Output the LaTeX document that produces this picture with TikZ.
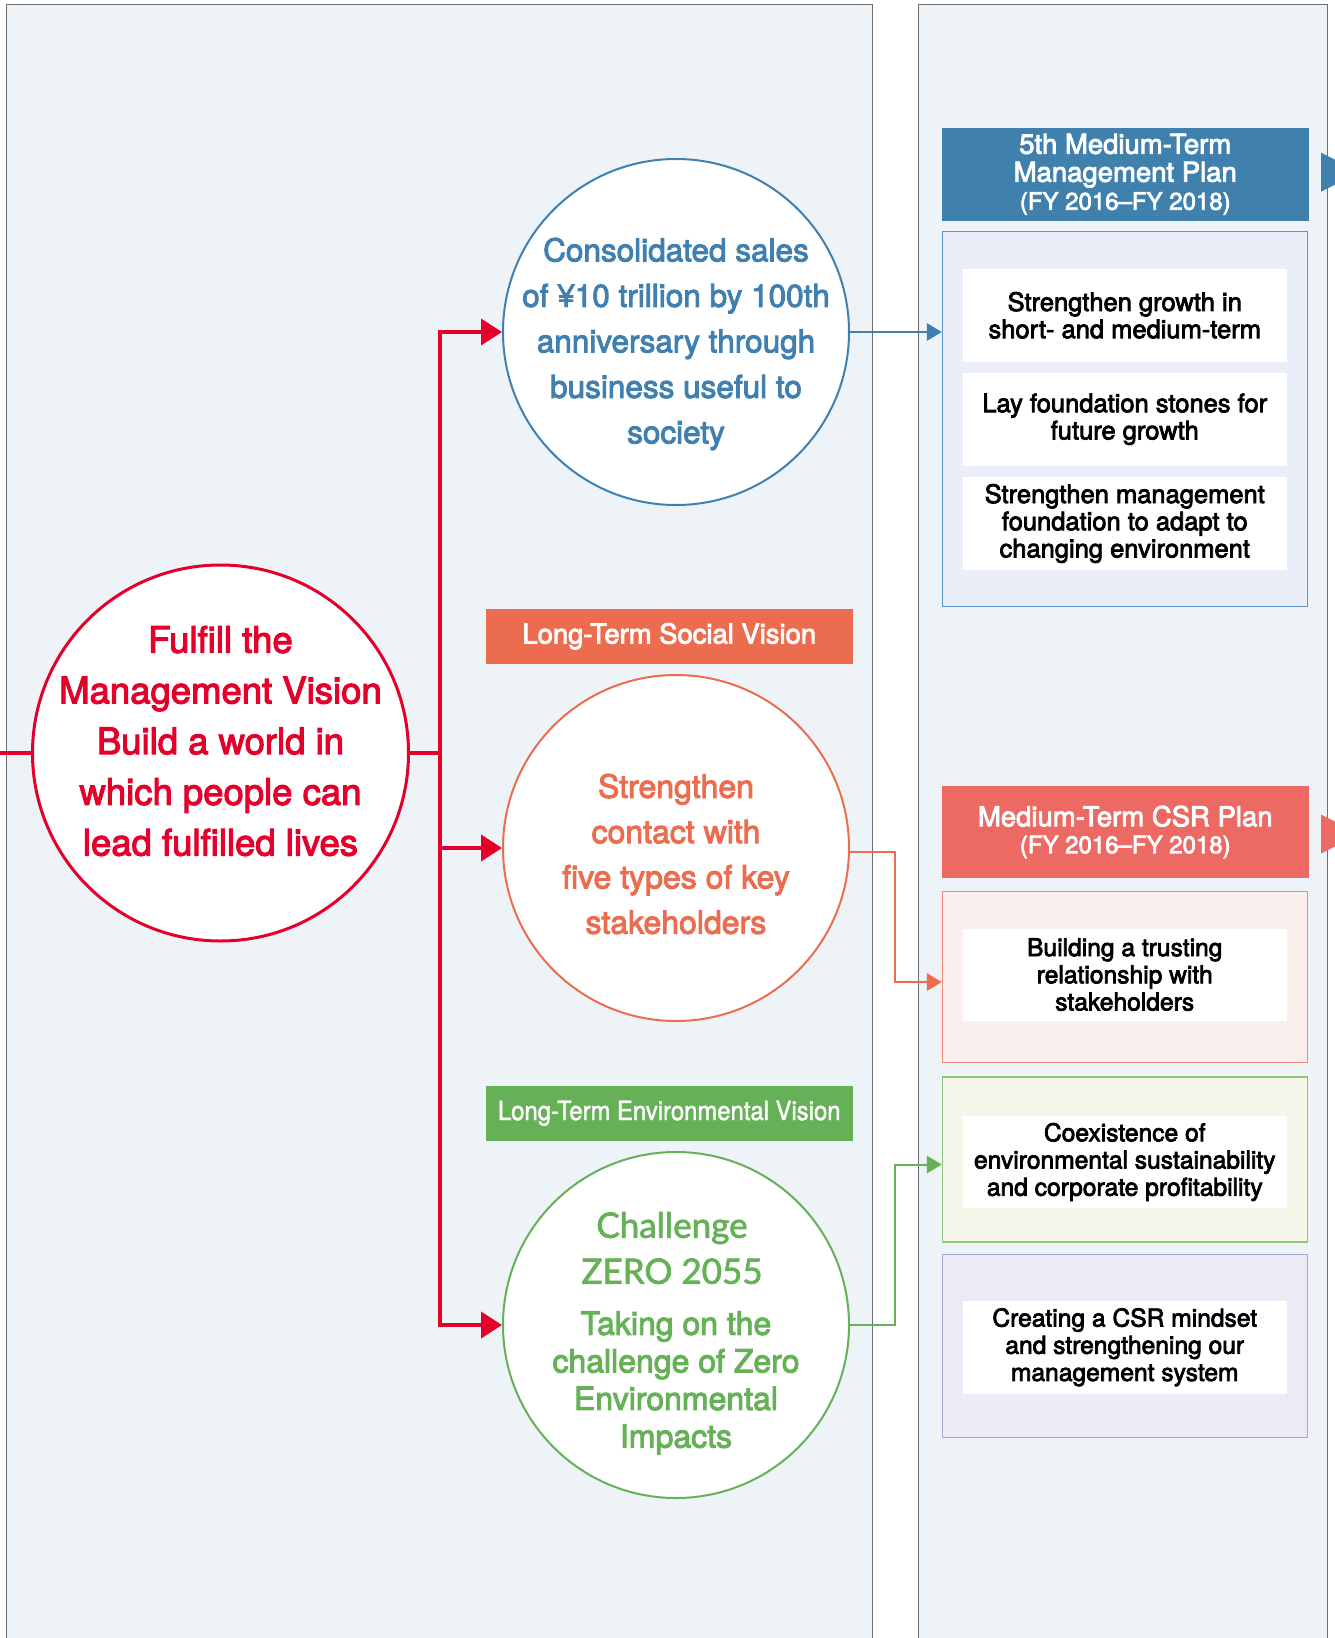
\documentclass[tikz,border=0pt]{standalone}
\usepackage{fontspec}
\usetikzlibrary{arrows.meta,calc}
\newfontfamily\hv{TeX Gyre Heros}[FakeBold=3]
\newfontfamily\hvcond{TeX Gyre Heros}[FakeStretch=0.9,FakeBold=1.5]
\newfontfamily\rnd{Lato}[FakeBold=2]
\newcommand{\setfs}[2]{\fontsize{#1}{#2}\selectfont}

\definecolor{panelbg}{HTML}{EEF3F8}
\definecolor{panelline}{HTML}{6E6E6E}
\definecolor{vred}{HTML}{E4002B}
\definecolor{vblue}{HTML}{4080B0}
\definecolor{vorange}{HTML}{EC6C50}
\definecolor{vgreen}{HTML}{66B158}
\definecolor{hdrblue}{HTML}{3F80AD}
\definecolor{hdrcsr}{HTML}{EC6A63}
\definecolor{frblue}{HTML}{E9EEF8}
\definecolor{frbluel}{HTML}{5E95C4}
\definecolor{frorange}{HTML}{FBEFEE}
\definecolor{frorangel}{HTML}{F08A78}
\definecolor{frgreen}{HTML}{F4F7EA}
\definecolor{frgreenl}{HTML}{8CC67F}
\definecolor{frpurple}{HTML}{ECEAF5}
\definecolor{frpurplel}{HTML}{A6A6D4}

\tikzset{
  panel/.style={draw=panelline, line width=1.5pt, fill=panelbg},
  vcircle/.style={circle, fill=white, line width=2pt, inner sep=0pt, minimum size=346pt},
  circtext/.style={align=center, inner sep=0pt},
  hdr/.style={rectangle, inner sep=0pt, text=white, align=center,
              minimum width=366.5pt, minimum height=92.5pt},
  tag/.style={rectangle, inner sep=0pt, text=white, align=center,
              minimum width=366.5pt, minimum height=54.5pt},
  frame/.style={rectangle, inner sep=0pt, line width=1.5pt,
                minimum width=365pt},
  item/.style={rectangle, fill=white, inner sep=0pt, align=center,
               minimum width=323.5pt, minimum height=92.5pt,
               font=\hv\setfs{25.5}{27.2}},
  csritem/.style={item, font=\hv\setfs{24.6}{27.2}},
  redline/.style={draw=vred, line width=4pt},
  redarrow/.style={redline, -{Triangle[length=21pt,width=26pt]}},
  link/.style={line width=2pt, -{Triangle[length=15pt,width=17.5pt]}},
}

\begin{document}
\begin{tikzpicture}[x=1pt,y=-1pt]
\useasboundingbox (0,0) rectangle (1335,1638);
\clip (0,0) rectangle (1335,1638);

% two column panels
\draw[panel] (6.5,4.5) rectangle (872.7,1660);
\draw[panel] (918.7,4.5) rectangle (1327.3,1660);

% junction points of the red trunk
\coordinate (jTop) at (440,332);
\coordinate (jMid) at (440,753);
\coordinate (jSoc) at (440,848);
\coordinate (jBot) at (440,1325);
\coordinate (inL) at (0,753);

% vision circles
\node[vcircle, draw=vred, line width=3pt, minimum size=376pt] (mgmt) at (220.5,753) {};
\node[vcircle, draw=vblue] (sales) at (676,332) {};
\node[vcircle, draw=vorange] (social) at (676,848) {};
\node[vcircle, draw=vgreen] (env) at (676,1325) {};

% red trunk and branches
\draw[redline] (inL) -- (mgmt.west);
\draw[redline] (mgmt.east) -- (jMid);
\draw[redline, line cap=rect] (jTop) -- (jBot);
\draw[redarrow] (jTop) -- (sales.west);
\draw[redarrow] (jSoc) -- (social.west);
\draw[redarrow] (jBot) -- (env.west);

% circle texts
\node[circtext, text=vred, font=\hv\setfs{36.5}{50.7}] (mgmtT) at (220.5,741)
  {Fulfill the\\Management Vision\\Build a world in\\which people can\\lead fulfilled lives};
\node[circtext, text=vblue, font=\hv\setfs{31.5}{45.5}] (salesT) at (676,344)
  {Consolidated sales\\of ¥10 trillion by 100th\\anniversary through\\business useful to\\society};
\node[circtext, text=vorange, font=\hv\setfs{32}{45.3}] (socialT) at (676,854)
  {Strengthen\\contact with\\five types of key\\stakeholders};
\node[circtext, text=vgreen, font=\rnd\setfs{35}{46}] (envT1) at (672,1248)
  {Challenge\\ZERO 2055};
\node[circtext, text=vgreen, font=\hv\setfs{32}{37.6}] (envT2) at (676,1383)
  {Taking on the\\challenge of Zero\\Environmental\\Impacts};

% long-term vision tags
\node[tag, fill=vorange, font=\hv\setfs{27.4}{30}] (socTag) at (669.25,636.25)
  {Long-Term Social Vision};
\node[tag, fill=vgreen, font=\hvcond\setfs{26.5}{30}] (envTag) at (669.25,1113.25)
  {Long-Term Environmental Vision};

% medium-term management plan
\node[hdr, fill=hdrblue, font=\hv\setfs{27.5}{28}] (plan5) at (1125.25,174.25)
  {5th Medium-Term\\Management Plan\\{\setfs{24}{27}(FY 2016–FY 2018)}};
\fill[hdrblue] (1321,152.7) -- (1360,172.2) -- (1321,191.7) -- cycle;
\node[frame, draw=frbluel, fill=frblue, minimum height=375pt] (planF) at (1125,419) {};
\node[item] (p1) at (1124.75,315.25) {Strengthen growth in\\short- and medium-term};
\node[item] (p2) at (1124.75,419.25) {Lay foundation stones for\\future growth};
\node[item, minimum height=93pt] (p3) at (1124.75,523.5)
  {Strengthen management\\foundation to adapt to\\changing environment};

% medium-term CSR plan
\node[hdr, fill=hdrcsr, minimum height=92pt, font=\hv\setfs{27.5}{27}] (csr) at (1125.25,832)
  {Medium-Term CSR Plan\\{\setfs{24}{27}(FY 2016–FY 2018)}};
\fill[hdrcsr] (1321,814.5) -- (1360,834) -- (1321,853.5) -- cycle;
\node[frame, draw=frorangel, fill=frorange, minimum height=171pt] (csrA) at (1125,977) {};
\node[csritem, minimum height=92pt] (c1) at (1124.75,974.5)
  {Building a trusting\\relationship with\\stakeholders};
\node[frame, draw=frgreenl, fill=frgreen, minimum height=165pt] (csrB) at (1125,1159.5) {};
\node[csritem, minimum height=92pt] (c2) at (1124.75,1162)
  {Coexistence of\\environmental sustainability\\and corporate profitability};
\node[frame, draw=frpurplel, fill=frpurple, minimum height=183pt] (csrC) at (1125,1346) {};
\node[csritem] (c3) at (1124.75,1347.25)
  {Creating a CSR mindset\\and strengthening our\\management system};

% links from the visions to the plans
\coordinate (elbow) at (895,0);
\coordinate (socOut) at ([yshift=-4pt]social.east);
\coordinate (socIn) at ([yshift=-5pt]csrA.west);
\coordinate (envOut) at (env.east);
\coordinate (envIn) at ([yshift=-5pt]csrB.west);
\draw[link, draw=vblue] (sales.east) -- (sales.east -| planF.west);
\draw[link, draw=vorange] (socOut) -- (elbow |- socOut) -- (elbow |- socIn) -- (socIn);
\draw[link, draw=vgreen] (envOut) -- (elbow |- envOut) -- (elbow |- envIn) -- (envIn);
\end{tikzpicture}
\end{document}
